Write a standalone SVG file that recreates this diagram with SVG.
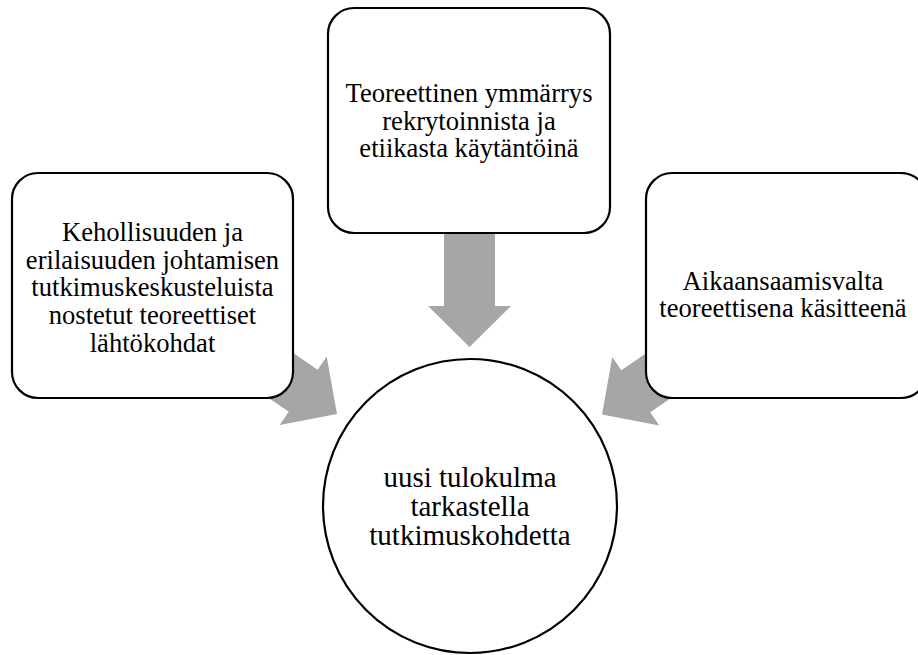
<svg xmlns="http://www.w3.org/2000/svg" width="918" height="655" viewBox="0 0 918 655">
  <style>
    .box { fill: #ffffff; stroke: #000000; stroke-width: 2.2; }
    .arrow { fill: #a6a6a6; stroke: none; }
    .lbl { font-family: "Liberation Serif", "Times New Roman", serif; font-size: 26.6px; fill: #000000; text-anchor: middle; }
    .lbl-c { font-family: "Liberation Serif", "Times New Roman", serif; font-size: 29px; fill: #000000; text-anchor: middle; }
  </style>
  <defs>
    <path id="blockArrow" d="M0,0 L-41,-41.5 L-41,-25.5 L-114,-25.5 L-114,25.5 L-41,25.5 L-41,41.5 Z"/>
  </defs>
  <rect width="918" height="655" fill="#ffffff"/>
  <g id="connectors">
    <use href="#blockArrow" class="arrow" transform="translate(469.5,347) rotate(90)"/>
    <use href="#blockArrow" class="arrow" transform="translate(337,414) rotate(34.5)"/>
    <use href="#blockArrow" class="arrow" transform="translate(602,414.5) rotate(145.5)"/>
  </g>
  <g id="node-left">
    <rect class="box" x="12" y="173" width="281" height="225" rx="26" ry="26"/>
    <text class="lbl" x="152.5" y="241">Kehollisuuden ja</text>
    <text class="lbl" x="152.5" y="268.7">erilaisuuden johtamisen</text>
    <text class="lbl" x="152.5" y="296.4">tutkimuskeskusteluista</text>
    <text class="lbl" x="152.5" y="324.1">nostetut teoreettiset</text>
    <text class="lbl" x="152.5" y="351.8">lähtökohdat</text>
  </g>
  <g id="node-top">
    <rect class="box" x="328" y="8" width="282" height="225" rx="26" ry="26"/>
    <text class="lbl" x="469" y="102">Teoreettinen ymmärrys</text>
    <text class="lbl" x="469" y="129.5">rekrytoinnista ja</text>
    <text class="lbl" x="469" y="157">etiikasta käytäntöinä</text>
  </g>
  <g id="node-right">
    <rect class="box" x="646" y="173" width="281" height="225" rx="26" ry="26"/>
    <text class="lbl" x="783" y="290">Aikaansaamisvalta</text>
    <text class="lbl" x="783" y="316.7">teoreettisena käsitteenä</text>
  </g>
  <g id="node-center">
    <circle class="box" cx="470" cy="506" r="147"/>
    <text class="lbl-c" x="470" y="486.7">uusi tulokulma</text>
    <text class="lbl-c" x="470" y="516">tarkastella</text>
    <text class="lbl-c" x="470" y="545">tutkimuskohdetta</text>
  </g>
</svg>
